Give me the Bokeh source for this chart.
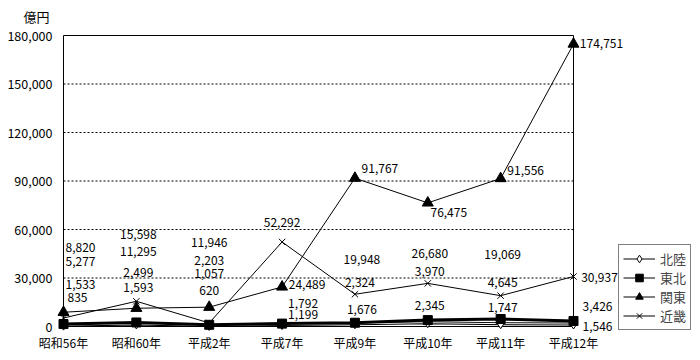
from bokeh.plotting import figure
from bokeh.models import Range1d, Legend, LegendItem, ColumnDataSource
from bokeh.core.properties import value
from bokeh.embed import file_html
from bokeh.resources import INLINE

categories = ["昭和56年", "昭和60年", "平成2年", "平成7年", "平成9年", "平成10年", "平成11年", "平成12年"]
hokuriku = [835, 1593, 620, 1199, 1676, 2345, 1747, 1546]
tohoku = [1533, 2499, 1057, 1792, 2324, 3970, 4645, 3426]
kanto = [8820, 11295, 11946, 24489, 91767, 76475, 91556, 174751]
kinki = [5277, 15598, 2203, 52292, 19948, 26680, 19069, 30937]
y_ticks = [0, 30000, 60000, 90000, 120000, 150000, 180000]
unit_label = "億円"

# label pixel offsets (dx, dy) per series per category (layout only)
off_hokuriku = [(14, -28), (2, -36), (0, -35), (21, -10), (7, -14), (2, -17), (2, -16), (24, 2)]
off_tohoku = [(17, -40), (2, -50), (0, -51), (21, -20), (5, -40), (2, -49), (2, -36), (24, -14)]
off_kanto = [(17, -65), (2, -57), (0, -65), (25, -2), (25, -10), (21, 10), (25, -8), (28, 0)]
off_kinki = [(17, -56), (2, -67), (0, -62), (0, -19), (7, -35), (2, -30), (2, -41), (26, 1)]

FONT = "Noto Sans CJK JP"
W, H = 692, 352
PL, PR, PT, PB = 63, 573, 35, 326   # plot-area box inside the canvas (px)
xs = list(range(len(categories)))
x0, x1 = xs[0], xs[-1]
y0, y1 = y_ticks[0], y_ticks[-1]
xpx = (PR - PL) / (x1 - x0)
ypx = (PB - PT) / (y1 - y0)

p = figure(width=W, height=H, output_backend="svg", toolbar_location=None,
           x_axis_type=None, y_axis_type=None,
           x_range=Range1d(x0 - PL / xpx, x1 + (W - PR) / xpx),
           y_range=Range1d(y0 - (H - PB) / ypx, y1 + PT / ypx),
           min_border=0)
p.outline_line_color = None
p.grid.visible = False
p.background_fill_color = "white"
p.border_fill_color = "white"

# gridlines
p.segment(x0=x0, x1=x1, y0=y_ticks[1:-1], y1=y_ticks[1:-1],
          line_color="black", line_width=1, line_dash="2 2")
# plot box / axes
p.segment(x0=[x0, x0, x0, x1], x1=[x1, x1, x0, x1], y0=[y0, y1, y0, y0], y1=[y0, y1, y1, y1],
          line_color="black", line_width=1)

# tick labels
p.text(x=[x0] * len(y_ticks), y=y_ticks, text=[f"{t:,}" for t in y_ticks],
       x_offset=-11, text_align="right", text_baseline="middle",
       text_font=value(FONT), text_font_size="12.5px", text_color="black")
p.text(x=xs, y=[y0] * len(xs), text=categories, y_offset=16,
       text_align="center", text_baseline="middle",
       text_font=value(FONT), text_font_size="12px", text_color="black")
p.text(x=[x0], y=[y1], text=[unit_label], x_offset=-27, y_offset=-19,
       text_align="center", text_baseline="middle",
       text_font=value(FONT), text_font_size="13px", text_color="black")

src = ColumnDataSource(dict(x=xs, hokuriku=hokuriku, tohoku=tohoku, kanto=kanto, kinki=kinki))

# lines
l_kinki = p.line("x", "kinki", source=src, line_color="black", line_width=1)
l_kanto = p.line("x", "kanto", source=src, line_color="black", line_width=1)
l_hok = p.line("x", "hokuriku", source=src, line_color="black", line_width=3)
l_hok_w = p.line("x", "hokuriku", source=src, line_color="white", line_width=1)
l_toh = p.line("x", "tohoku", source=src, line_color="black", line_width=3)

m_hok = p.scatter("x", "hokuriku", source=src, marker="diamond", size=10,
                  fill_color="white", line_color="black")
m_toh = p.scatter("x", "tohoku", source=src, marker="square", size=9,
                  fill_color="black", line_color="black")
m_kan = p.scatter("x", "kanto", source=src, marker="triangle", size=11,
                  fill_color="black", line_color="black")
m_kin = p.scatter("x", "kinki", source=src, marker="x", size=9,
                  line_color="black", line_width=1)

# data labels
for vals, offs in ((hokuriku, off_hokuriku), (tohoku, off_tohoku),
                   (kanto, off_kanto), (kinki, off_kinki)):
    lsrc = ColumnDataSource(dict(x=xs, y=vals, t=[f"{v:,}" for v in vals],
                                 dx=[o[0] for o in offs], dy=[o[1] for o in offs]))
    p.text("x", "y", text="t", source=lsrc, x_offset="dx", y_offset="dy",
           text_align="center", text_baseline="middle",
           text_font=value(FONT), text_font_size="12px", text_color="black")

# legend
legend = Legend(items=[
    LegendItem(label="北陸", renderers=[l_kinki, m_hok]),
    LegendItem(label="東北", renderers=[l_kanto, m_toh]),
    LegendItem(label="関東", renderers=[l_kanto, m_kan]),
    LegendItem(label="近畿", renderers=[l_kinki, m_kin]),
], location=(618, 22))
legend.border_line_color = "black"
legend.border_line_width = 1
legend.padding = 4
legend.spacing = 0
legend.margin = 0
legend.label_height = 19
legend.glyph_height = 19
legend.glyph_width = 32
legend.label_standoff = 5
legend.label_text_font = FONT
legend.label_text_font_size = "13px"
legend.background_fill_alpha = 1
p.add_layout(legend, "center")

open("out.html", "w").write(file_html(p, INLINE))
